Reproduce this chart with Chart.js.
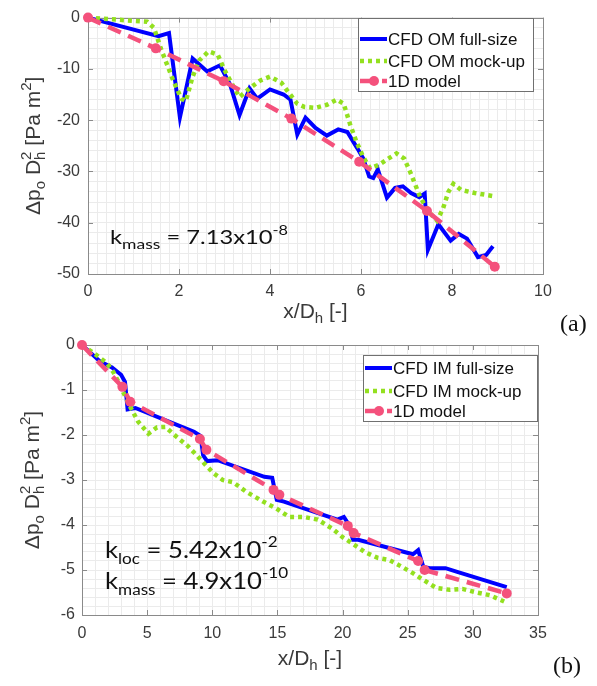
<!DOCTYPE html>
<html>
<head>
<meta charset="utf-8">
<script src="https://cdn.jsdelivr.net/npm/chart.js@4.4.0/dist/chart.umd.min.js"></script>
<style>
  html, body { margin: 0; padding: 0; background: #fff; }
  body { width: 597px; height: 686px; position: relative; overflow: hidden; }
  canvas { position: absolute; left: 0; }
  #chartA { top: 0; }
  #chartB { top: 325px; }
</style>
</head>
<body>
<canvas id="chartA" width="597" height="340"></canvas>
<canvas id="chartB" width="597" height="361"></canvas>
<script>
// --- 1. DATA ---

// (a) outlet manifold
const omFullX = [0, 1.55, 1.78, 2.02, 2.3, 2.62, 2.9, 3.12, 3.33, 3.55, 3.72, 4.0, 4.3, 4.45, 4.6, 4.78, 5.0, 5.25, 5.5, 5.7, 5.92, 6.05, 6.18, 6.27, 6.37, 6.57, 6.75, 6.92, 7.1, 7.28, 7.4, 7.47, 7.7, 7.97, 8.15, 8.33, 8.57, 8.75, 8.9];
const omFullY = [0, -3.6, -3.0, -19.5, -8.0, -10.5, -9.3, -13.0, -19.0, -13.8, -15.8, -14.0, -15.0, -16.0, -22.8, -19.5, -21.5, -23.0, -21.8, -22.3, -25.5, -27.5, -31.0, -31.3, -29.6, -35.1, -33.2, -32.9, -34.2, -35.0, -34.3, -45.3, -40.3, -43.5, -42.2, -43.1, -46.7, -46.3, -44.6];

const omMockX = [0, 0.3, 1.3, 1.45, 1.6, 1.87, 2.05, 2.15, 2.3, 2.45, 2.65, 2.85, 3.0, 3.2, 3.33, 3.55, 3.78, 4.0, 4.25, 4.4, 4.6, 4.75, 5.0, 5.25, 5.47, 5.62, 5.76, 5.9, 6.05, 6.2, 6.4, 6.6, 6.78, 6.95, 7.1, 7.3, 7.5, 7.67, 7.8, 7.92, 8.03, 8.2, 8.5, 8.9];
const omMockY = [0, -0.2, -0.8, -2.0, -6.0, -12.2, -15.8, -16.3, -11.5, -8.3, -6.6, -7.2, -10.2, -13.5, -15.5, -13.8, -12.3, -11.5, -12.7, -14.5, -16.8, -17.4, -17.6, -17.0, -16.0, -16.8, -20.8, -24.2, -27.2, -29.4, -28.7, -27.5, -26.5, -27.5, -30.5, -35.0, -38.0, -39.6, -37.3, -34.0, -32.4, -33.6, -34.2, -34.8];

const om1dX = [0, 1.49, 2.98, 4.47, 5.96, 7.45, 8.94];
const om1dY = [0, -6.0, -12.4, -19.7, -28.1, -37.7, -48.6];

// (b) inlet manifold
const imFullX = [0, 1.4, 2.3, 3.0, 3.3, 3.5, 4.1, 8.6, 9.1, 9.3, 9.6, 10.4, 14.0, 14.6, 14.95, 15.5, 19.6, 20.1, 20.5, 20.8, 21.2, 25.4, 25.8, 26.2, 26.7, 27.9, 28.8, 32.6];
const imFullY = [0, -0.37, -0.5, -0.66, -0.82, -1.43, -1.4, -1.93, -2.02, -2.45, -2.58, -2.56, -2.93, -2.95, -3.44, -3.48, -3.88, -3.82, -4.0, -4.33, -4.33, -4.65, -4.56, -4.93, -4.96, -4.96, -5.04, -5.38];

const imMockX = [0, 0.9, 1.9, 2.4, 2.8, 3.2, 3.7, 4.3, 5.1, 5.75, 6.4, 7.3, 8.1, 8.8, 9.5, 10.1, 10.8, 11.6, 12.6, 13.9, 14.9, 15.9, 17.0, 18.1, 19.2, 20.0, 20.8, 21.7, 22.7, 23.6, 24.5, 25.4, 26.2, 27.2, 28.2, 29.2, 30.3, 31.3, 32.4];
const imMockY = [0, -0.18, -0.4, -0.6, -0.82, -1.07, -1.37, -1.7, -1.97, -1.83, -1.82, -2.05, -2.24, -2.45, -2.67, -2.85, -3.0, -3.05, -3.26, -3.48, -3.63, -3.82, -3.82, -3.88, -4.08, -4.27, -4.42, -4.6, -4.73, -4.78, -4.92, -5.07, -5.22, -5.4, -5.44, -5.42, -5.5, -5.56, -5.7];

const im1dX = [0, 3.1, 3.7, 9.05, 9.55, 14.7, 15.15, 20.4, 20.85, 25.8, 26.3, 32.6];
const im1dY = [0, -0.93, -1.26, -2.09, -2.33, -3.22, -3.33, -4.02, -4.18, -4.8, -5.0, -5.52];

// --- 2. STYLE ---
const BLUE = '#0000ff';
const GREEN = '#93e01f';
const PINK = '#f4517c';
const AXIS_COLOR = '#8a8a8a';
const GRID_COLOR = '#ebebeb';
const TICK_TEXT = '#3a3a3a';
const SANS = '"Liberation Sans", Arial, sans-serif';

Chart.defaults.font.family = SANS;
Chart.defaults.color = TICK_TEXT;

function pts(xs, ys) { return xs.map((x, i) => ({ x: x, y: ys[i] })); }
function isMultiple(v, step) { const r = v / step; return Math.abs(r - Math.round(r)) < 1e-6; }

// draws text made of pieces (subscripts, superscripts, stacked D_h^2)
function drawRich(ctx, x, y, parts, o) {
    ctx.save();
    ctx.translate(x, y);
    if (o.rotate) ctx.rotate(o.rotate);
    ctx.scale(o.sx || 1, 1);
    let w = 0, prevStart = 0, prevW = 0;
    const pos = [];
    parts.forEach(p => {
        ctx.font = p.s + 'px ' + o.family;
        const pw = ctx.measureText(p.t).width;
        if (p.stack) {
            pos.push(prevStart);
            prevW = Math.max(prevW, pw);
            w = prevStart + prevW;
        } else {
            pos.push(w);
            prevStart = w; prevW = pw; w += pw;
        }
    });
    const x0 = o.align === 'center' ? -w / 2 : 0;
    ctx.fillStyle = o.color;
    ctx.textAlign = 'left';
    ctx.textBaseline = 'alphabetic';
    parts.forEach((p, i) => {
        ctx.font = p.s + 'px ' + o.family;
        ctx.fillText(p.t, x0 + pos[i], p.dy || 0);
    });
    ctx.restore();
}

const yTitleParts = [
    { t: 'Δp', s: 21 }, { t: 'o', s: 15, dy: 5 }, { t: ' D', s: 21 },
    { t: 'h', s: 15, dy: 5 }, { t: '2', s: 15, dy: -9, stack: true },
    { t: ' [Pa m', s: 21 }, { t: '2', s: 15, dy: -9 }, { t: ']', s: 21 }
];
const xTitleParts = [{ t: 'x/D', s: 21 }, { t: 'h', s: 15, dy: 5 }, { t: ' [-]', s: 21 }];

// frame, inward ticks, legend, notes and titles for one panel
function makeDeco(cfg) {
    return {
        id: 'deco',
        beforeDatasetsDraw(chart) {
            const { ctx, chartArea: a, scales } = chart;
            ctx.save();
            ctx.strokeStyle = AXIS_COLOR;
            ctx.lineWidth = 1;
            ctx.strokeRect(Math.round(a.left) + 0.5, Math.round(a.top) + 0.5,
                Math.round(a.right - a.left), Math.round(a.bottom - a.top));
            ctx.beginPath();
            scales.x.ticks.forEach(t => {
                if (!isMultiple(t.value, cfg.majorX)) return;
                const px = Math.round(scales.x.getPixelForValue(t.value)) + 0.5;
                ctx.moveTo(px, a.bottom); ctx.lineTo(px, a.bottom - 5);
                ctx.moveTo(px, a.top); ctx.lineTo(px, a.top + 5);
            });
            scales.y.ticks.forEach(t => {
                if (!isMultiple(t.value, cfg.majorY)) return;
                const py = Math.round(scales.y.getPixelForValue(t.value)) + 0.5;
                ctx.moveTo(a.left, py); ctx.lineTo(a.left + 5, py);
                ctx.moveTo(a.right, py); ctx.lineTo(a.right - 5, py);
            });
            ctx.stroke();
            ctx.restore();
        },
        afterDatasetsDraw(chart) {
            const { ctx, chartArea: a } = chart;
            const lg = cfg.legend;
            const bx = Math.round(a.right - lg.right - lg.width);
            const by = Math.round(a.top + lg.top);
            ctx.save();
            ctx.fillStyle = '#fff';
            ctx.fillRect(bx, by, lg.width, lg.height);
            ctx.strokeStyle = '#707070';
            ctx.lineWidth = 1;
            ctx.strokeRect(bx + 0.5, by + 0.5, lg.width, lg.height);
            chart.data.datasets.forEach((ds, i) => {
                const yy = by + lg.rows[i];
                ctx.save();
                ctx.strokeStyle = ds.borderColor;
                ctx.lineWidth = ds.borderWidth;
                ctx.setLineDash(ds.borderDash || []);
                ctx.beginPath();
                ctx.moveTo(bx + 2, yy); ctx.lineTo(bx + 29, yy);
                ctx.stroke();
                if (ds.pointRadius) {
                    ctx.fillStyle = ds.borderColor;
                    ctx.beginPath();
                    ctx.arc(bx + 16, yy, ds.pointRadius, 0, Math.PI * 2);
                    ctx.fill();
                }
                ctx.restore();
                ctx.fillStyle = '#111';
                ctx.font = '17px ' + SANS;
                ctx.textBaseline = 'middle';
                ctx.textAlign = 'left';
                ctx.fillText(ds.label, bx + 30, yy + 1);
            });
            ctx.restore();
            cfg.notes.forEach(n => {
                drawRich(ctx, a.left + n.dx, a.top + n.dy, n.parts,
                    { family: 'Lato, "Open Sans", sans-serif', color: '#111', sx: n.sx });
            });
        },
        afterDraw(chart) {
            const { ctx, chartArea: a } = chart;
            drawRich(ctx, cfg.yTitleX, (a.top + a.bottom) / 2, yTitleParts,
                { family: SANS, color: '#3a3a3a', align: 'center', rotate: -Math.PI / 2 });
            drawRich(ctx, (a.left + a.right) / 2, a.bottom + cfg.xTitleDy, xTitleParts,
                { family: SANS, color: '#3a3a3a', align: 'center' });
            ctx.save();
            ctx.fillStyle = '#111';
            ctx.font = '24px "Liberation Serif", "Times New Roman", serif';
            ctx.textBaseline = 'alphabetic';
            ctx.fillText(cfg.panel.text, cfg.panel.x, cfg.panel.y);
            ctx.restore();
        }
    };
}

function lineSets(fx, fy, mx, my, dx, dy, names) {
    return [
        { label: names[0], data: pts(fx, fy), borderColor: BLUE, borderWidth: 4, pointRadius: 0, order: 3 },
        { label: names[1], data: pts(mx, my), borderColor: GREEN, borderWidth: 4.5, borderDash: [4, 4], borderCapStyle: 'butt', pointRadius: 0, order: 2 },
        { label: names[2], data: pts(dx, dy), borderColor: PINK, borderWidth: 4.5, borderDash: [14, 8], pointRadius: 5, pointBorderWidth: 0, pointBackgroundColor: PINK, order: 1 }
    ].map(d => Object.assign({ fill: false, tension: 0, clip: false }, d));
}

function axis(min, max, step, major, axisSize, pad, isX) {
    return {
        type: 'linear', min: min, max: max,
        afterFit: s => { if (isX) s.height = axisSize; else s.width = axisSize; },
        grid: { color: GRID_COLOR, lineWidth: 1, drawTicks: false },
        border: { display: false },
        ticks: {
            stepSize: step, autoSkip: false, maxRotation: 0, minRotation: 0, padding: pad,
            font: { size: 16 }, color: TICK_TEXT,
            callback: v => isMultiple(v, major) ? String(Math.round(v)) : ''
        }
    };
}

function makeChart(id, datasets, scales, padding, deco) {
    return new Chart(document.getElementById(id).getContext('2d'), {
        type: 'line',
        data: { datasets: datasets },
        options: {
            responsive: false,
            animation: false,
            devicePixelRatio: 1,
            events: [],
            layout: { padding: padding },
            plugins: { legend: { display: false }, tooltip: { enabled: false } },
            scales: scales
        },
        plugins: [makeDeco(deco)]
    });
}

// --- 3. PANELS ---
makeChart('chartA',
    lineSets(omFullX, omFullY, omMockX, omMockY, om1dX, om1dY,
        ['CFD OM full-size', 'CFD OM mock-up', '1D model']),
    { x: axis(0, 10, 0.2, 2, 66, 8, true), y: axis(-50, 0, 2, 10, 88, 8, false) },
    { top: 14, right: 54, left: 0, bottom: 0 },
    {
        majorX: 2, majorY: 10,
        legend: { right: 10, top: 0, width: 175, height: 73, rows: [21, 43, 63] },
        notes: [{ dx: 22, dy: 226, sx: 1.25, parts: [
            { t: 'k', s: 19 }, { t: 'mass', s: 14, dy: 5 }, { t: ' = 7.13x10', s: 19 }, { t: '-8', s: 13, dy: -9 }] }],
        yTitleX: 40, xTitleDy: 44,
        panel: { text: '(a)', x: 560, y: 331 }
    });

makeChart('chartB',
    lineSets(imFullX, imFullY, imMockX, imMockY, im1dX, im1dY,
        ['CFD IM full-size', 'CFD IM mock-up', '1D model']),
    { x: axis(0, 35, 1, 5, 71, 9, true), y: axis(-6, 0, 0.2, 1, 82, 7, false) },
    { top: 20, right: 59, left: 0, bottom: 0 },
    {
        majorX: 5, majorY: 1,
        legend: { right: 1, top: 10, width: 174, height: 66, rows: [13, 36, 56] },
        notes: [
            { dx: 23, dy: 213, sx: 1.07, parts: [
                { t: 'k', s: 24 }, { t: 'loc', s: 16, dy: 6 }, { t: ' = 5.42x10', s: 24 }, { t: '-2', s: 16, dy: -11 }] },
            { dx: 23, dy: 244, sx: 1.07, parts: [
                { t: 'k', s: 24 }, { t: 'mass', s: 16, dy: 6 }, { t: ' = 4.9x10', s: 24 }, { t: '-10', s: 16, dy: -11 }] }
        ],
        yTitleX: 39, xTitleDy: 50,
        panel: { text: '(b)', x: 553, y: 348 }
    });
</script>
</body>
</html>
